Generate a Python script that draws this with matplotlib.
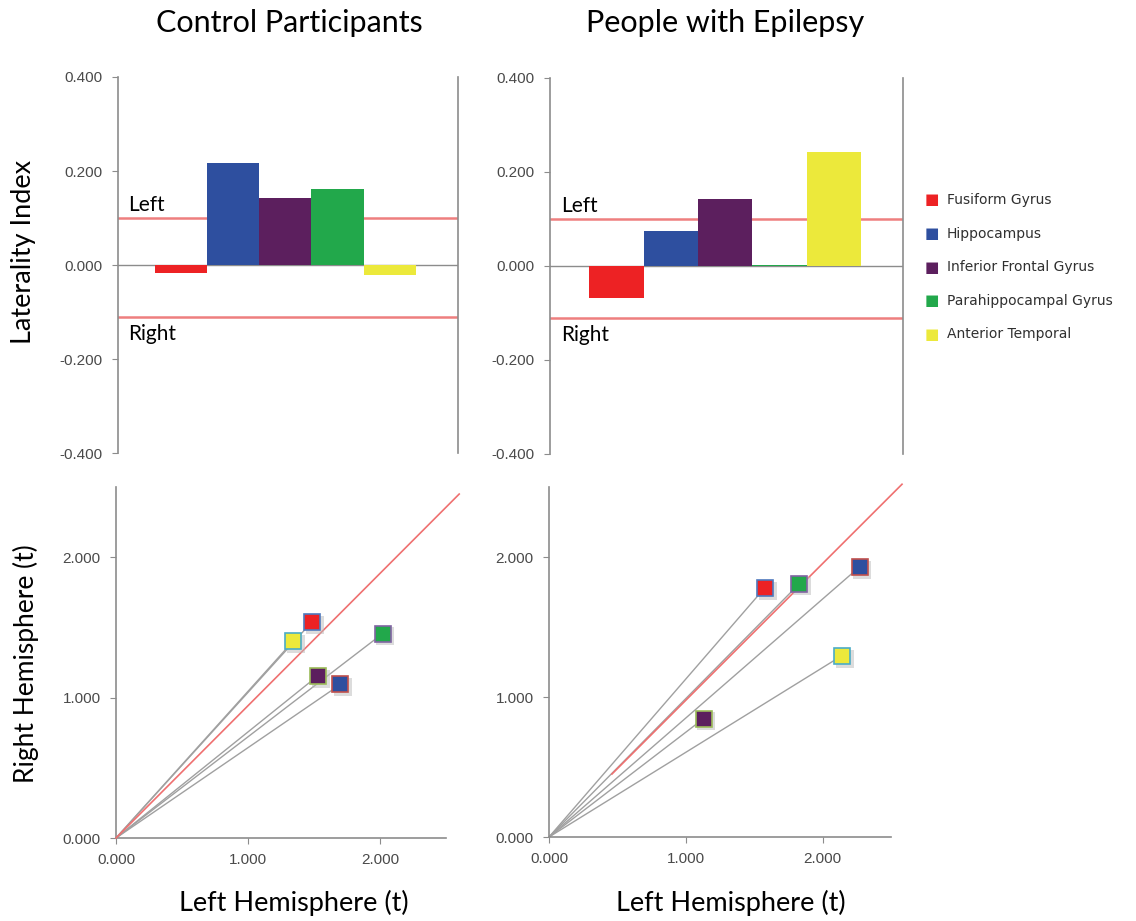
import matplotlib
matplotlib.use("Agg")
import matplotlib.pyplot as plt

# regions and colours
regions = ["Fusiform Gyrus", "Hippocampus", "Inferior Frontal Gyrus",
           "Parahippocampal Gyrus", "Anterior Temporal"]
colors = ["#ed2224", "#2e4f9f", "#5c1f5e", "#22a84b", "#ece93b"]
edges = ["#4f79bd", "#c0504d", "#9bbb59", "#8064a2", "#4bacc6"]

# laterality index per region
li_control = [-0.018, 0.217, 0.143, 0.162, -0.021]
li_epilepsy = [-0.068, 0.074, 0.143, 0.002, 0.243]
left_thresh = 0.10
right_thresh = -0.11

# left / right hemisphere t values
lh_control = [1.485, 1.70, 1.53, 2.02, 1.34]
rh_control = [1.54, 1.094, 1.156, 1.456, 1.40]
lh_epilepsy = [1.577, 2.27, 1.13, 1.83, 2.14]
rh_epilepsy = [1.78, 1.93, 0.846, 1.81, 1.295]

# red reference lines (start, end)
ref_control = ([0.0, 2.6], [0.0, 2.45])
ref_epilepsy = ([0.46, 2.58], [0.45, 2.52])

bar_ticks = [-0.4, -0.2, 0.0, 0.2, 0.4]
bar_ticklabels = ["-0.400", "-0.200", "0.000", "0.200", "0.400"]
sc_ticks = [0, 1, 2]
sc_ticklabels = ["0.000", "1.000", "2.000"]

title_font = "Lato"
tick_font = "Liberation Sans"
gray = "#8c8c8c"
tick_kw = dict(fontfamily=tick_font, fontsize=11, color="#4a4a4a")

W, H = 1136, 921
fig = plt.figure(figsize=(W / 100, H / 100), dpi=100)


def px(x, y):
    return x / W, 1 - y / H


ax_bar = [fig.add_axes([0.1039, 0.5081, 0.2993, 0.4083]),
          fig.add_axes([0.4842, 0.5071, 0.3107, 0.4083])]
ax_sc = [fig.add_axes([0.1021, 0.0901, 0.2905, 0.3811]),
         fig.add_axes([0.4833, 0.0912, 0.3011, 0.3800])]

for ax, vals, xl in zip(ax_bar, [li_control, li_epilepsy],
                        [(-1.21, 5.31), (-1.22, 5.27)]):
    x = list(range(len(vals)))
    ax.bar(x, vals, width=1.0, color=colors, zorder=3)
    ax.axhline(0, color=gray, lw=1, zorder=2)
    ax.axhline(left_thresh, color="#ee7f7f", lw=1.8, zorder=2)
    ax.axhline(right_thresh, color="#ee7f7f", lw=1.8, zorder=2)
    ax.set_xlim(*xl)
    ax.set_ylim(-0.4, 0.4)
    ax.set_yticks(bar_ticks)
    ax.set_yticklabels(bar_ticklabels, **tick_kw)
    ax.set_xticks([])
    ax.spines["top"].set_visible(False)
    ax.spines["bottom"].set_visible(False)
    for s in ["left", "right"]:
        ax.spines[s].set_color(gray)
        ax.spines[s].set_linewidth(1.2)
    ax.tick_params(axis="y", direction="out", length=4, color=gray, pad=7)
    ax.text(0.03, left_thresh + 0.015, "Left", transform=ax.get_yaxis_transform(),
            fontfamily=title_font, fontsize=15, va="baseline", ha="left")
    ax.text(0.03, right_thresh - 0.049, "Right", transform=ax.get_yaxis_transform(),
            fontfamily=title_font, fontsize=15, va="baseline", ha="left")

for ax, lh, rh, ref in zip(ax_sc, [lh_control, lh_epilepsy],
                           [rh_control, rh_epilepsy], [ref_control, ref_epilepsy]):
    for xv, yv in zip(lh, rh):
        ax.plot([0, xv], [0, yv], color="#a0a0a0", lw=1, zorder=2)
    ax.plot(ref[0], ref[1], color="#ef7070", lw=1.2, zorder=3, clip_on=False)
    for xv, yv, c, e in zip(lh, rh, colors, edges):
        ax.plot(xv + 0.02, yv - 0.02, marker="s", ms=12.5, color="#bbbbbb",
                alpha=0.5, zorder=4, mew=0)
        ax.plot(xv, yv, marker="s", ms=12, color=c, mec=e, mew=1.2, zorder=5)
    ax.set_xlim(0, 2.5)
    ax.set_ylim(0, 2.5)
    ax.set_xticks(sc_ticks)
    ax.set_xticklabels(sc_ticklabels, **tick_kw)
    ax.set_yticks(sc_ticks)
    ax.set_yticklabels(sc_ticklabels, **tick_kw)
    ax.spines["top"].set_visible(False)
    ax.spines["right"].set_visible(False)
    for s in ["left", "bottom"]:
        ax.spines[s].set_color(gray)
        ax.spines[s].set_linewidth(1.2)
    ax.tick_params(direction="out", length=4, color=gray, pad=7)

# titles and axis labels
fig.text(*px(289, 23), "Control Participants", fontfamily=title_font,
         fontsize=22, ha="center", va="center")
fig.text(*px(725, 23), "People with Epilepsy", fontfamily=title_font,
         fontsize=22, ha="center", va="center")
fig.text(*px(24, 252), "Laterality Index", fontfamily=title_font,
         fontsize=19.5, ha="center", va="center", rotation=90)
fig.text(*px(26, 664), "Right Hemisphere (t)", fontfamily=title_font,
         fontsize=19, ha="center", va="center", rotation=90)
fig.text(*px(294, 903), "Left Hemisphere (t)", fontfamily=title_font,
         fontsize=19.5, ha="center", va="center")
fig.text(*px(731, 903), "Left Hemisphere (t)", fontfamily=title_font,
         fontsize=19.5, ha="center", va="center")

# legend
for i, (name, c) in enumerate(zip(regions, colors)):
    lx, ly = px(932, 200 + i * 33.6)
    fig.text(lx, ly, "\u25a0", color=c, fontsize=11, va="center",
             ha="center", fontfamily="DejaVu Sans")
    fig.text(947 / W, ly, name, color="#303030", fontsize=10, va="center",
             ha="left", fontfamily="DejaVu Sans")

fig.savefig("out.png", dpi=100)
